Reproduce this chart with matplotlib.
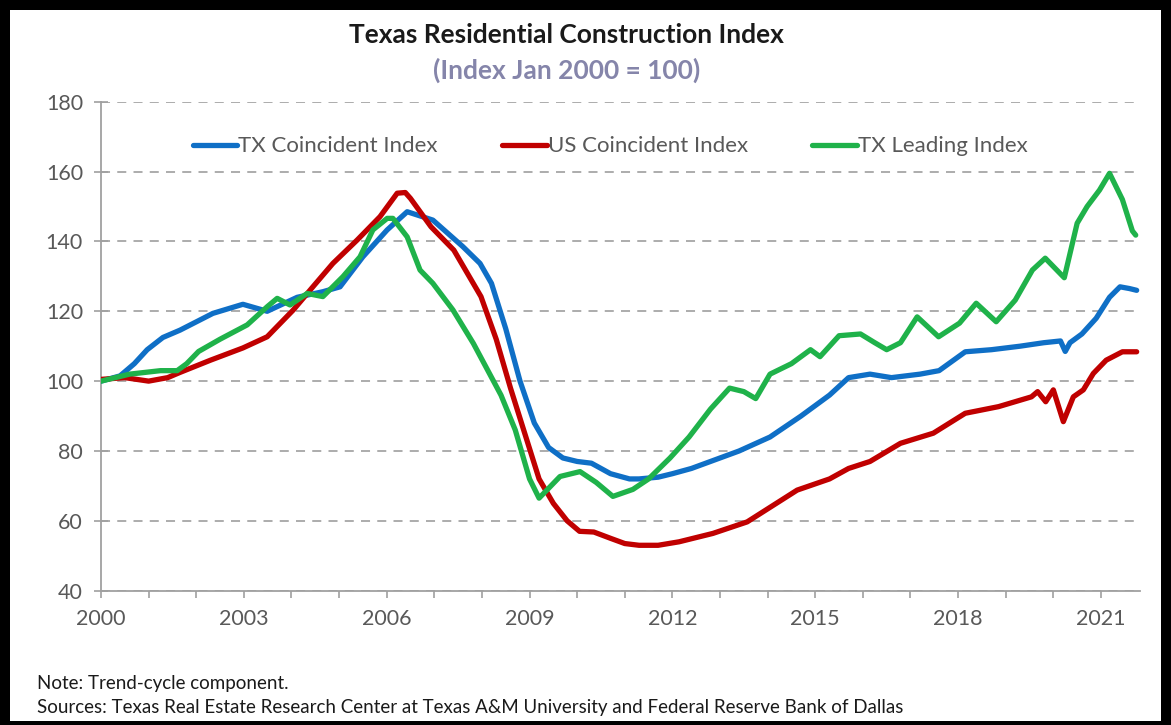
import numpy as np
import matplotlib.pyplot as plt
from matplotlib.patches import Rectangle

plt.rcParams['font.family'] = ['Lato', 'DejaVu Sans']

# ------------------------
# Data (year fraction -> index)
# ------------------------
tx_coin_x = [2000.0, 2000.4, 2000.7, 2000.97, 2001.3, 2001.66, 2002.35, 2002.98, 2003.49, 2004.12,
             2004.66, 2005.02, 2005.5, 2006.01, 2006.43, 2006.97, 2007.6, 2007.96, 2008.2, 2008.5,
             2008.8, 2009.1, 2009.4, 2009.7, 2010.0, 2010.3, 2010.7, 2011.1, 2011.3, 2011.7,
             2012.0, 2012.4, 2012.8, 2013.4, 2014.05, 2014.7, 2015.3, 2015.7, 2016.15, 2016.6,
             2017.2, 2017.6, 2018.15, 2018.7, 2019.3, 2019.8, 2020.15, 2020.25, 2020.35,
             2020.6, 2020.9, 2021.18, 2021.4, 2021.6, 2021.75]
tx_coin_y = [100, 101.5, 105, 109, 112.5, 114.6, 119.4, 122, 120, 124,
             125.6, 127, 135.6, 143.3, 148.5, 146.1, 138.5, 133.7, 128, 115,
             100, 88, 81, 78, 77, 76.5, 73.5, 72, 72, 72.5,
             73.5, 75, 77, 80, 84, 90, 96, 101, 102, 101,
             102, 103, 108.4, 109, 110, 111, 111.5, 108.5, 111,
             113.5, 118, 124, 127, 126.5, 126]

us_coin_x = [2000.0, 2000.5, 2001.0, 2001.4, 2001.66, 2002.3, 2002.98, 2003.49, 2004.04,
             2004.45, 2004.87, 2005.38, 2005.86, 2006.22, 2006.39, 2006.5, 2006.93, 2007.41,
             2007.98, 2008.3, 2008.6, 2008.9, 2009.2, 2009.5, 2009.79, 2010.05, 2010.35,
             2010.7, 2011.0, 2011.3, 2011.7, 2012.14, 2012.85, 2013.57, 2014.62, 2015.3,
             2015.7, 2016.15, 2016.79, 2017.48, 2018.15, 2018.85, 2019.54, 2019.67, 2019.84,
             2020.0, 2020.21, 2020.42, 2020.63, 2020.84, 2021.11, 2021.45, 2021.75]
us_coin_y = [100.5, 101, 100, 101, 102.5, 106, 109.5, 112.7, 120.4,
             127, 133.7, 140.4, 147.1, 153.8, 154, 152.3, 144.2, 137.5,
             124.2, 112, 98, 85, 72, 65, 60, 57, 56.8,
             55, 53.5, 53, 53, 54, 56.4, 59.7, 68.8, 72,
             75, 77, 82.2, 85.1, 90.8, 92.7, 95.5, 97, 94.1,
             97.5, 88.4, 95.5, 97.5, 102.2, 106, 108.4, 108.4]

tx_lead_x = [2000.0, 2000.6, 2001.25, 2001.6, 2001.8, 2002.05, 2002.5, 2003.07, 2003.49, 2003.7,
             2003.97, 2004.33, 2004.66, 2005.08, 2005.44, 2005.71, 2006.01, 2006.13, 2006.43,
             2006.7, 2006.97, 2007.39, 2007.82, 2008.4, 2008.7, 2009.0, 2009.2, 2009.64,
             2010.06, 2010.4, 2010.75, 2011.17, 2011.5, 2011.95, 2012.35, 2012.8, 2013.2,
             2013.5, 2013.75, 2014.05, 2014.5, 2014.9, 2015.1, 2015.5, 2015.95, 2016.25,
             2016.5, 2016.79, 2017.14, 2017.59, 2018.03, 2018.38, 2018.8, 2019.2, 2019.56,
             2019.83, 2020.23, 2020.5, 2020.71, 2020.97, 2021.18, 2021.45, 2021.66, 2021.73]
tx_lead_y = [100, 102, 103, 103, 105, 108.5, 112, 116.1, 121.3, 123.7,
             121.8, 125.1, 124.2, 129.9, 135.6, 143.3, 146.6, 146.6, 141.3,
             131.8, 128, 120.4, 110.8, 96, 86, 72, 66.5, 72.7,
             74.1, 71, 67, 69, 72, 78, 84, 92, 98,
             97, 95, 102, 105, 109, 107, 113, 113.5, 111,
             109, 111, 118.4, 112.7, 116.6, 122.3, 117, 123.2, 131.8,
             135.2, 129.6, 145.2, 150, 154.7, 159.5, 152, 143, 141.8]

tick_years = [2000, 2003, 2006, 2009, 2012, 2015, 2018, 2021]

# ------------------------
# Figure with black frame
# ------------------------
W, H = 1171, 725
fig = plt.figure(figsize=(W / 100, H / 100), dpi=100, facecolor='black')
fig.patches.append(Rectangle((10 / W, 4 / H), (W - 20) / W, (H - 14) / H,
                             transform=fig.transFigure, facecolor='white',
                             edgecolor='none', zorder=-10))

ax = fig.add_axes([101 / W, 1 - 590.7 / H, (1140 - 101) / W, (590.7 - 101.7) / H])
ax.set_facecolor('white')

lw = 3.8
style = dict(lw=lw, solid_capstyle='round', solid_joinstyle='round', zorder=3)
ax.plot(tx_coin_x, tx_coin_y, color='#0f6fc6', label='TX Coincident Index', **style)
ax.plot(us_coin_x, us_coin_y, color='#c00000', label='US Coincident Index', **style)
ax.plot(tx_lead_x, tx_lead_y, color='#1fb24a', label='TX Leading Index', **style)

ax.set_xlim(2000, 2021.82)
ax.set_ylim(40, 180)
ax.set_yticks(range(40, 181, 20))
ax.set_xticks(tick_years)
ax.set_xticks(range(2000, 2022), minor=True)

ax.yaxis.grid(True, linestyle=(0, (5, 4)), color='#a6a6a6', lw=1.3)
ax.set_axisbelow(True)

for s in ['top', 'right']:
    ax.spines[s].set_visible(False)
for s in ['left', 'bottom']:
    ax.spines[s].set_color('#a0a0a0')
    ax.spines[s].set_linewidth(1.3)

ax.tick_params(axis='y', direction='inout', length=10, width=1.2, color='#a0a0a0',
               labelsize=15.5, labelcolor='#595959', pad=8)
ax.tick_params(axis='x', which='both', direction='out', length=5, width=1.2,
               color='#a0a0a0', labelsize=15.5, labelcolor='#595959', pad=8)

ax.legend(loc='upper center', bbox_to_anchor=(0.49, 0.97), ncol=3, frameon=False,
          fontsize=16, handlelength=2.0, handletextpad=0.05, columnspacing=2.9,
          labelcolor='#595959')

# Titles and notes
fig.text(0.484, 1 - 35 / H, 'Texas Residential Construction Index', ha='center', va='center',
         fontsize=19, fontweight='bold', color='#1a1a1a')
fig.text(0.484, 1 - 70 / H, '(Index Jan 2000 = 100)', ha='center', va='center',
         fontsize=19, fontweight='bold', color='#8585aa')
fig.text(37 / W, 1 - 683 / H, 'Note: Trend-cycle component.', ha='left', va='center',
         fontsize=13.5, color='#1a1a1a')
fig.text(37 / W, 1 - 708 / H,
         'Sources: Texas Real Estate Research Center at Texas A&M University and Federal Reserve Bank of Dallas',
         ha='left', va='center', fontsize=13.5, color='#1a1a1a')

plt.savefig('out.png', dpi=100, facecolor='black')
